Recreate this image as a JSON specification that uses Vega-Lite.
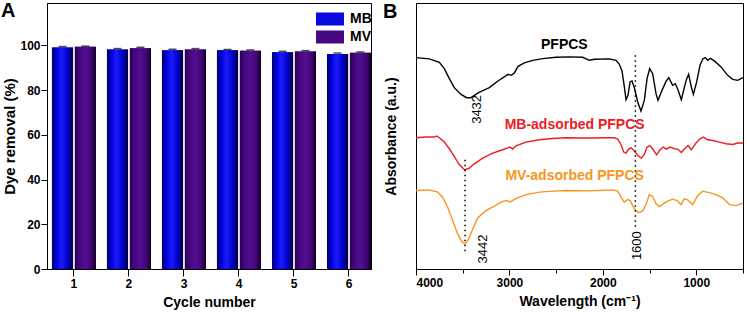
{
  "$schema": "https://vega.github.io/schema/vega-lite/v6.json",
  "padding": {"left": 0, "top": 0, "right": 2, "bottom": 2},
  "background": "white",
  "resolve": {"scale": {"color": "independent"}, "legend": {"color": "independent"}},
  "config": {
    "font": "Liberation Sans",
    "view": {"stroke": "black", "strokeWidth": 1},
    "axis": {"domainColor": "black", "tickColor": "black", "labelColor": "black", "titleColor": "black", "labelFont": "Liberation Sans", "titleFont": "Liberation Sans", "labelFontWeight": "bold", "titleFontWeight": "bold", "labelFontSize": 12, "titleFontSize": 14, "grid": false, "domainWidth": 1},
    "concat": {"spacing": 9}
  },
  "datasets": {
    "bars": [
      {"cycle": 1, "dye": "MB", "removal": 99.1, "upper": 99.5},
      {"cycle": 1, "dye": "MV", "removal": 99.4, "upper": 99.7},
      {"cycle": 2, "dye": "MB", "removal": 98.2, "upper": 98.6},
      {"cycle": 2, "dye": "MV", "removal": 98.8, "upper": 99.2},
      {"cycle": 3, "dye": "MB", "removal": 97.9, "upper": 98.3},
      {"cycle": 3, "dye": "MV", "removal": 98.2, "upper": 98.6},
      {"cycle": 4, "dye": "MB", "removal": 97.9, "upper": 98.2},
      {"cycle": 4, "dye": "MV", "removal": 97.6, "upper": 98.0},
      {"cycle": 5, "dye": "MB", "removal": 97.0, "upper": 97.4},
      {"cycle": 5, "dye": "MV", "removal": 97.3, "upper": 97.7},
      {"cycle": 6, "dye": "MB", "removal": 96.2, "upper": 96.6},
      {"cycle": 6, "dye": "MV", "removal": 96.7, "upper": 97.1}
    ],
    "spectra": [
      {"sample": "PFPCS", "wn": 4000, "a": 211.0},
      {"sample": "PFPCS", "wn": 3857, "a": 209.7},
      {"sample": "PFPCS", "wn": 3750, "a": 206.3},
      {"sample": "PFPCS", "wn": 3697, "a": 200.0},
      {"sample": "PFPCS", "wn": 3643, "a": 190.0},
      {"sample": "PFPCS", "wn": 3590, "a": 181.0},
      {"sample": "PFPCS", "wn": 3518, "a": 174.3},
      {"sample": "PFPCS", "wn": 3458, "a": 171.0},
      {"sample": "PFPCS", "wn": 3411, "a": 171.0},
      {"sample": "PFPCS", "wn": 3336, "a": 175.7},
      {"sample": "PFPCS", "wn": 3215, "a": 181.0},
      {"sample": "PFPCS", "wn": 3122, "a": 187.7},
      {"sample": "PFPCS", "wn": 3015, "a": 194.3},
      {"sample": "PFPCS", "wn": 2980, "a": 193.3},
      {"sample": "PFPCS", "wn": 2947, "a": 195.7},
      {"sample": "PFPCS", "wn": 2908, "a": 202.3},
      {"sample": "PFPCS", "wn": 2840, "a": 205.7},
      {"sample": "PFPCS", "wn": 2751, "a": 208.3},
      {"sample": "PFPCS", "wn": 2644, "a": 210.0},
      {"sample": "PFPCS", "wn": 2501, "a": 211.3},
      {"sample": "PFPCS", "wn": 2359, "a": 211.7},
      {"sample": "PFPCS", "wn": 2216, "a": 211.3},
      {"sample": "PFPCS", "wn": 2145, "a": 208.3},
      {"sample": "PFPCS", "wn": 2091, "a": 209.3},
      {"sample": "PFPCS", "wn": 1931, "a": 209.7},
      {"sample": "PFPCS", "wn": 1859, "a": 208.3},
      {"sample": "PFPCS", "wn": 1824, "a": 204.3},
      {"sample": "PFPCS", "wn": 1795, "a": 197.7},
      {"sample": "PFPCS", "wn": 1770, "a": 181.7},
      {"sample": "PFPCS", "wn": 1752, "a": 169.0},
      {"sample": "PFPCS", "wn": 1731, "a": 173.3},
      {"sample": "PFPCS", "wn": 1709, "a": 186.7},
      {"sample": "PFPCS", "wn": 1688, "a": 187.7},
      {"sample": "PFPCS", "wn": 1663, "a": 181.0},
      {"sample": "PFPCS", "wn": 1627, "a": 166.7},
      {"sample": "PFPCS", "wn": 1592, "a": 157.7},
      {"sample": "PFPCS", "wn": 1556, "a": 168.3},
      {"sample": "PFPCS", "wn": 1527, "a": 190.0},
      {"sample": "PFPCS", "wn": 1499, "a": 200.0},
      {"sample": "PFPCS", "wn": 1467, "a": 195.0},
      {"sample": "PFPCS", "wn": 1431, "a": 175.0},
      {"sample": "PFPCS", "wn": 1410, "a": 168.3},
      {"sample": "PFPCS", "wn": 1367, "a": 178.3},
      {"sample": "PFPCS", "wn": 1324, "a": 187.3},
      {"sample": "PFPCS", "wn": 1295, "a": 191.0},
      {"sample": "PFPCS", "wn": 1253, "a": 183.3},
      {"sample": "PFPCS", "wn": 1224, "a": 185.0},
      {"sample": "PFPCS", "wn": 1196, "a": 179.0},
      {"sample": "PFPCS", "wn": 1160, "a": 169.0},
      {"sample": "PFPCS", "wn": 1131, "a": 180.0},
      {"sample": "PFPCS", "wn": 1106, "a": 189.0},
      {"sample": "PFPCS", "wn": 1082, "a": 194.3},
      {"sample": "PFPCS", "wn": 1053, "a": 181.7},
      {"sample": "PFPCS", "wn": 1031, "a": 174.3},
      {"sample": "PFPCS", "wn": 996, "a": 186.7},
      {"sample": "PFPCS", "wn": 960, "a": 203.3},
      {"sample": "PFPCS", "wn": 931, "a": 209.7},
      {"sample": "PFPCS", "wn": 903, "a": 211.0},
      {"sample": "PFPCS", "wn": 878, "a": 208.3},
      {"sample": "PFPCS", "wn": 849, "a": 210.3},
      {"sample": "PFPCS", "wn": 807, "a": 207.7},
      {"sample": "PFPCS", "wn": 735, "a": 201.7},
      {"sample": "PFPCS", "wn": 664, "a": 193.3},
      {"sample": "PFPCS", "wn": 610, "a": 189.3},
      {"sample": "PFPCS", "wn": 557, "a": 188.3},
      {"sample": "PFPCS", "wn": 500, "a": 191.0},
      {"sample": "MB-adsorbed PFPCS", "wn": 4000, "a": 131.0},
      {"sample": "MB-adsorbed PFPCS", "wn": 3893, "a": 131.7},
      {"sample": "MB-adsorbed PFPCS", "wn": 3804, "a": 131.7},
      {"sample": "MB-adsorbed PFPCS", "wn": 3779, "a": 132.7},
      {"sample": "MB-adsorbed PFPCS", "wn": 3750, "a": 131.0},
      {"sample": "MB-adsorbed PFPCS", "wn": 3697, "a": 126.7},
      {"sample": "MB-adsorbed PFPCS", "wn": 3643, "a": 120.0},
      {"sample": "MB-adsorbed PFPCS", "wn": 3586, "a": 111.7},
      {"sample": "MB-adsorbed PFPCS", "wn": 3536, "a": 104.0},
      {"sample": "MB-adsorbed PFPCS", "wn": 3479, "a": 99.0},
      {"sample": "MB-adsorbed PFPCS", "wn": 3436, "a": 100.3},
      {"sample": "MB-adsorbed PFPCS", "wn": 3376, "a": 105.0},
      {"sample": "MB-adsorbed PFPCS", "wn": 3286, "a": 110.7},
      {"sample": "MB-adsorbed PFPCS", "wn": 3179, "a": 115.7},
      {"sample": "MB-adsorbed PFPCS", "wn": 3072, "a": 119.0},
      {"sample": "MB-adsorbed PFPCS", "wn": 2994, "a": 121.7},
      {"sample": "MB-adsorbed PFPCS", "wn": 2965, "a": 119.7},
      {"sample": "MB-adsorbed PFPCS", "wn": 2930, "a": 123.0},
      {"sample": "MB-adsorbed PFPCS", "wn": 2823, "a": 126.7},
      {"sample": "MB-adsorbed PFPCS", "wn": 2680, "a": 129.0},
      {"sample": "MB-adsorbed PFPCS", "wn": 2537, "a": 130.3},
      {"sample": "MB-adsorbed PFPCS", "wn": 2394, "a": 131.0},
      {"sample": "MB-adsorbed PFPCS", "wn": 2252, "a": 130.7},
      {"sample": "MB-adsorbed PFPCS", "wn": 2109, "a": 130.7},
      {"sample": "MB-adsorbed PFPCS", "wn": 1966, "a": 131.0},
      {"sample": "MB-adsorbed PFPCS", "wn": 1877, "a": 131.0},
      {"sample": "MB-adsorbed PFPCS", "wn": 1841, "a": 129.7},
      {"sample": "MB-adsorbed PFPCS", "wn": 1806, "a": 124.3},
      {"sample": "MB-adsorbed PFPCS", "wn": 1777, "a": 116.7},
      {"sample": "MB-adsorbed PFPCS", "wn": 1752, "a": 115.7},
      {"sample": "MB-adsorbed PFPCS", "wn": 1724, "a": 119.7},
      {"sample": "MB-adsorbed PFPCS", "wn": 1695, "a": 121.0},
      {"sample": "MB-adsorbed PFPCS", "wn": 1663, "a": 117.7},
      {"sample": "MB-adsorbed PFPCS", "wn": 1624, "a": 113.0},
      {"sample": "MB-adsorbed PFPCS", "wn": 1588, "a": 110.7},
      {"sample": "MB-adsorbed PFPCS", "wn": 1556, "a": 114.3},
      {"sample": "MB-adsorbed PFPCS", "wn": 1527, "a": 121.7},
      {"sample": "MB-adsorbed PFPCS", "wn": 1495, "a": 123.0},
      {"sample": "MB-adsorbed PFPCS", "wn": 1460, "a": 119.0},
      {"sample": "MB-adsorbed PFPCS", "wn": 1424, "a": 114.0},
      {"sample": "MB-adsorbed PFPCS", "wn": 1388, "a": 119.0},
      {"sample": "MB-adsorbed PFPCS", "wn": 1353, "a": 121.7},
      {"sample": "MB-adsorbed PFPCS", "wn": 1317, "a": 119.7},
      {"sample": "MB-adsorbed PFPCS", "wn": 1281, "a": 121.7},
      {"sample": "MB-adsorbed PFPCS", "wn": 1235, "a": 120.0},
      {"sample": "MB-adsorbed PFPCS", "wn": 1199, "a": 119.7},
      {"sample": "MB-adsorbed PFPCS", "wn": 1160, "a": 116.3},
      {"sample": "MB-adsorbed PFPCS", "wn": 1124, "a": 120.0},
      {"sample": "MB-adsorbed PFPCS", "wn": 1089, "a": 123.3},
      {"sample": "MB-adsorbed PFPCS", "wn": 1053, "a": 119.0},
      {"sample": "MB-adsorbed PFPCS", "wn": 1003, "a": 125.7},
      {"sample": "MB-adsorbed PFPCS", "wn": 960, "a": 130.0},
      {"sample": "MB-adsorbed PFPCS", "wn": 924, "a": 131.7},
      {"sample": "MB-adsorbed PFPCS", "wn": 878, "a": 129.0},
      {"sample": "MB-adsorbed PFPCS", "wn": 824, "a": 128.3},
      {"sample": "MB-adsorbed PFPCS", "wn": 753, "a": 126.7},
      {"sample": "MB-adsorbed PFPCS", "wn": 682, "a": 125.0},
      {"sample": "MB-adsorbed PFPCS", "wn": 610, "a": 124.3},
      {"sample": "MB-adsorbed PFPCS", "wn": 557, "a": 125.7},
      {"sample": "MB-adsorbed PFPCS", "wn": 500, "a": 125.7},
      {"sample": "MV-adsorbed PFPCS", "wn": 4000, "a": 78.3},
      {"sample": "MV-adsorbed PFPCS", "wn": 3857, "a": 79.0},
      {"sample": "MV-adsorbed PFPCS", "wn": 3768, "a": 76.7},
      {"sample": "MV-adsorbed PFPCS", "wn": 3715, "a": 71.7},
      {"sample": "MV-adsorbed PFPCS", "wn": 3661, "a": 61.7},
      {"sample": "MV-adsorbed PFPCS", "wn": 3608, "a": 48.3},
      {"sample": "MV-adsorbed PFPCS", "wn": 3554, "a": 35.0},
      {"sample": "MV-adsorbed PFPCS", "wn": 3508, "a": 27.0},
      {"sample": "MV-adsorbed PFPCS", "wn": 3476, "a": 25.0},
      {"sample": "MV-adsorbed PFPCS", "wn": 3440, "a": 29.0},
      {"sample": "MV-adsorbed PFPCS", "wn": 3393, "a": 40.0},
      {"sample": "MV-adsorbed PFPCS", "wn": 3340, "a": 51.0},
      {"sample": "MV-adsorbed PFPCS", "wn": 3251, "a": 58.3},
      {"sample": "MV-adsorbed PFPCS", "wn": 3162, "a": 62.7},
      {"sample": "MV-adsorbed PFPCS", "wn": 3090, "a": 66.7},
      {"sample": "MV-adsorbed PFPCS", "wn": 3037, "a": 68.3},
      {"sample": "MV-adsorbed PFPCS", "wn": 2990, "a": 67.0},
      {"sample": "MV-adsorbed PFPCS", "wn": 2937, "a": 70.0},
      {"sample": "MV-adsorbed PFPCS", "wn": 2823, "a": 74.3},
      {"sample": "MV-adsorbed PFPCS", "wn": 2680, "a": 76.7},
      {"sample": "MV-adsorbed PFPCS", "wn": 2537, "a": 77.7},
      {"sample": "MV-adsorbed PFPCS", "wn": 2394, "a": 78.3},
      {"sample": "MV-adsorbed PFPCS", "wn": 2180, "a": 78.0},
      {"sample": "MV-adsorbed PFPCS", "wn": 2038, "a": 78.3},
      {"sample": "MV-adsorbed PFPCS", "wn": 1895, "a": 79.0},
      {"sample": "MV-adsorbed PFPCS", "wn": 1841, "a": 77.7},
      {"sample": "MV-adsorbed PFPCS", "wn": 1806, "a": 71.7},
      {"sample": "MV-adsorbed PFPCS", "wn": 1770, "a": 66.7},
      {"sample": "MV-adsorbed PFPCS", "wn": 1734, "a": 69.3},
      {"sample": "MV-adsorbed PFPCS", "wn": 1709, "a": 68.3},
      {"sample": "MV-adsorbed PFPCS", "wn": 1663, "a": 60.0},
      {"sample": "MV-adsorbed PFPCS", "wn": 1617, "a": 56.3},
      {"sample": "MV-adsorbed PFPCS", "wn": 1574, "a": 57.7},
      {"sample": "MV-adsorbed PFPCS", "wn": 1538, "a": 64.3},
      {"sample": "MV-adsorbed PFPCS", "wn": 1502, "a": 74.3},
      {"sample": "MV-adsorbed PFPCS", "wn": 1467, "a": 72.3},
      {"sample": "MV-adsorbed PFPCS", "wn": 1431, "a": 65.0},
      {"sample": "MV-adsorbed PFPCS", "wn": 1395, "a": 62.3},
      {"sample": "MV-adsorbed PFPCS", "wn": 1324, "a": 67.0},
      {"sample": "MV-adsorbed PFPCS", "wn": 1253, "a": 69.7},
      {"sample": "MV-adsorbed PFPCS", "wn": 1206, "a": 68.3},
      {"sample": "MV-adsorbed PFPCS", "wn": 1163, "a": 64.3},
      {"sample": "MV-adsorbed PFPCS", "wn": 1128, "a": 70.0},
      {"sample": "MV-adsorbed PFPCS", "wn": 1092, "a": 69.0},
      {"sample": "MV-adsorbed PFPCS", "wn": 1039, "a": 64.3},
      {"sample": "MV-adsorbed PFPCS", "wn": 985, "a": 73.3},
      {"sample": "MV-adsorbed PFPCS", "wn": 931, "a": 77.7},
      {"sample": "MV-adsorbed PFPCS", "wn": 860, "a": 76.3},
      {"sample": "MV-adsorbed PFPCS", "wn": 789, "a": 74.3},
      {"sample": "MV-adsorbed PFPCS", "wn": 717, "a": 71.0},
      {"sample": "MV-adsorbed PFPCS", "wn": 646, "a": 64.3},
      {"sample": "MV-adsorbed PFPCS", "wn": 575, "a": 63.3},
      {"sample": "MV-adsorbed PFPCS", "wn": 500, "a": 65.7}
    ],
    "names": [
      {"sample": "PFPCS", "wn": 2412, "a": 223.3},
      {"sample": "MB-adsorbed PFPCS", "wn": 2302, "a": 143.3},
      {"sample": "MV-adsorbed PFPCS", "wn": 2302, "a": 93.3}
    ],
    "peaks": [
      {"label": "3432", "wn": 3351, "a": 159.3},
      {"label": "3442", "wn": 3286, "a": 20.0},
      {"label": "1600", "wn": 1638, "a": 23.3}
    ],
    "dots": [
      {"wn": 1652, "a1": 213.3, "a2": 41.7},
      {"wn": 3475, "a1": 109.0, "a2": 15.0}
    ]
  },
  "hconcat": [
    {
      "width": 324,
      "height": 266,
      "title": {"text": "A", "anchor": "start", "frame": "group", "fontSize": 20, "fontWeight": "bold", "baseline": "top", "offset": -18, "dx": -46, "color": "black"},
      "data": {"name": "bars"},
      "layer": [
        {
          "mark": {"type": "bar"},
          "encoding": {
            "x": {"field": "cycle", "type": "ordinal", "scale": {"paddingInner": 0.2, "paddingOuter": 0.045, "align": 1}, "axis": {"title": "Cycle number", "labelAngle": 0, "tickSize": 7, "labelPadding": 2, "titlePadding": 6}},
            "xOffset": {"field": "dye", "type": "nominal", "scale": {"domain": ["MB", "MV"], "paddingInner": 0.08}},
            "y": {"field": "removal", "type": "quantitative", "scale": {"domain": [0, 119], "nice": false}, "axis": {"title": "Dye removal (%)", "titleFontSize": 15, "values": [0, 10, 20, 30, 40, 50, 60, 70, 80, 90, 100, 110], "labelExpr": "datum.value % 20 === 0 ? datum.label : ''", "tickSize": {"condition": {"test": "datum.value % 20 === 0", "value": 6}, "value": 3}, "labelPadding": 1, "titlePadding": 2}},
            "color": {
              "field": "dye", "type": "nominal",
              "scale": {"domain": ["MB", "MV"], "range": ["#0a0ae0", "#48087f"]},
              "legend": {"title": null, "orient": "none", "legendX": 276, "legendY": 9, "symbolType": "M-2,-0.93H2V0.93H-2Z", "symbolSize": 196, "symbolStrokeWidth": 0, "labelFontSize": 14, "labelFontWeight": "bold", "labelColor": "black", "labelOffset": 13, "rowPadding": 4, "padding": 0,
                "encode": {"symbols": {"update": {"fill": {"signal": "datum.value === 'MB' ? {gradient: 'linear', x1: 0, x2: 1, y1: 0, y2: 0, stops: [{offset: 0, color: '#000060'}, {offset: 0.2, color: '#0000d8'}, {offset: 0.45, color: '#1a1aff'}, {offset: 0.75, color: '#0000c8'}, {offset: 1, color: '#00003a'}]} : {gradient: 'linear', x1: 0, x2: 1, y1: 0, y2: 0, stops: [{offset: 0, color: '#2a0050'}, {offset: 0.2, color: '#44067e'}, {offset: 0.5, color: '#520e92'}, {offset: 0.8, color: '#3f0572'}, {offset: 1, color: '#12001f'}]}"}}}}
              }
            }
          }
        },
        {
          "mark": {"type": "bar"},
          "encoding": {
            "x": {"field": "cycle", "type": "ordinal"},
            "xOffset": {"field": "dye", "type": "nominal"},
            "y": {"field": "removal", "type": "quantitative"},
            "fill": {
              "condition": {"test": "datum.dye === 'MB'", "value": {"gradient": "linear", "x1": 0, "x2": 1, "y1": 0, "y2": 0, "stops": [{"offset": 0, "color": "#000060"}, {"offset": 0.2, "color": "#0000d8"}, {"offset": 0.45, "color": "#1a1aff"}, {"offset": 0.75, "color": "#0000c8"}, {"offset": 1, "color": "#00003a"}]}},
              "value": {"gradient": "linear", "x1": 0, "x2": 1, "y1": 0, "y2": 0, "stops": [{"offset": 0, "color": "#2a0050"}, {"offset": 0.2, "color": "#44067e"}, {"offset": 0.5, "color": "#520e92"}, {"offset": 0.8, "color": "#3f0572"}, {"offset": 1, "color": "#12001f"}]}
            }
          }
        },
        {
          "mark": {"type": "tick", "color": "black", "thickness": 1.5, "size": 8},
          "encoding": {
            "x": {"field": "cycle", "type": "ordinal"},
            "xOffset": {"field": "dye", "type": "nominal"},
            "y": {"field": "upper", "type": "quantitative"}
          }
        }
      ]
    },
    {
      "width": 327,
      "height": 266,
      "title": {"text": "B", "anchor": "start", "frame": "group", "fontSize": 20, "fontWeight": "bold", "baseline": "top", "offset": -18, "dx": -33, "dy": 1, "color": "black"},
      "layer": [
        {
          "data": {"name": "spectra"},
          "mark": {"type": "line", "strokeWidth": 1.4},
          "encoding": {
            "x": {"field": "wn", "type": "quantitative", "scale": {"domain": [500, 4000], "reverse": true, "nice": false, "zero": false}, "axis": {"title": "Wavelength (cm⁻¹)", "values": [4000, 3500, 3000, 2500, 2000, 1500, 1000, 500], "format": "d", "labelExpr": "datum.value % 1000 === 0 ? datum.label : ''", "tickSize": {"condition": {"test": "datum.value % 1000 === 0", "value": 6}, "value": 4}, "labelPadding": 2, "titlePadding": 6}},
            "y": {"field": "a", "type": "quantitative", "scale": {"domain": [0, 265.5], "nice": false, "zero": false}, "axis": {"title": "Absorbance (a.u.)", "labels": false, "ticks": false, "titlePadding": 18}},
            "color": {"field": "sample", "type": "nominal", "scale": {"domain": ["PFPCS", "MB-adsorbed PFPCS", "MV-adsorbed PFPCS"], "range": ["#000000", "#ec1c24", "#f7961e"]}, "legend": null}
          }
        },
        {
          "data": {"name": "dots"},
          "mark": {"type": "rule", "strokeDash": [1.5, 3.5], "strokeWidth": 1.5, "color": "black"},
          "encoding": {
            "x": {"field": "wn", "type": "quantitative"},
            "y": {"field": "a1", "type": "quantitative"},
            "y2": {"field": "a2"}
          }
        },
        {
          "data": {"name": "names"},
          "mark": {"type": "text", "fontSize": 14, "fontWeight": "bold", "font": "Liberation Sans"},
          "encoding": {
            "x": {"field": "wn", "type": "quantitative"},
            "y": {"field": "a", "type": "quantitative"},
            "text": {"field": "sample"},
            "color": {"field": "sample", "type": "nominal", "legend": null}
          }
        },
        {
          "data": {"name": "peaks"},
          "mark": {"type": "text", "fontSize": 13, "angle": 270, "color": "black", "font": "Liberation Sans"},
          "encoding": {
            "x": {"field": "wn", "type": "quantitative"},
            "y": {"field": "a", "type": "quantitative"},
            "text": {"field": "label"}
          }
        }
      ]
    }
  ]
}
